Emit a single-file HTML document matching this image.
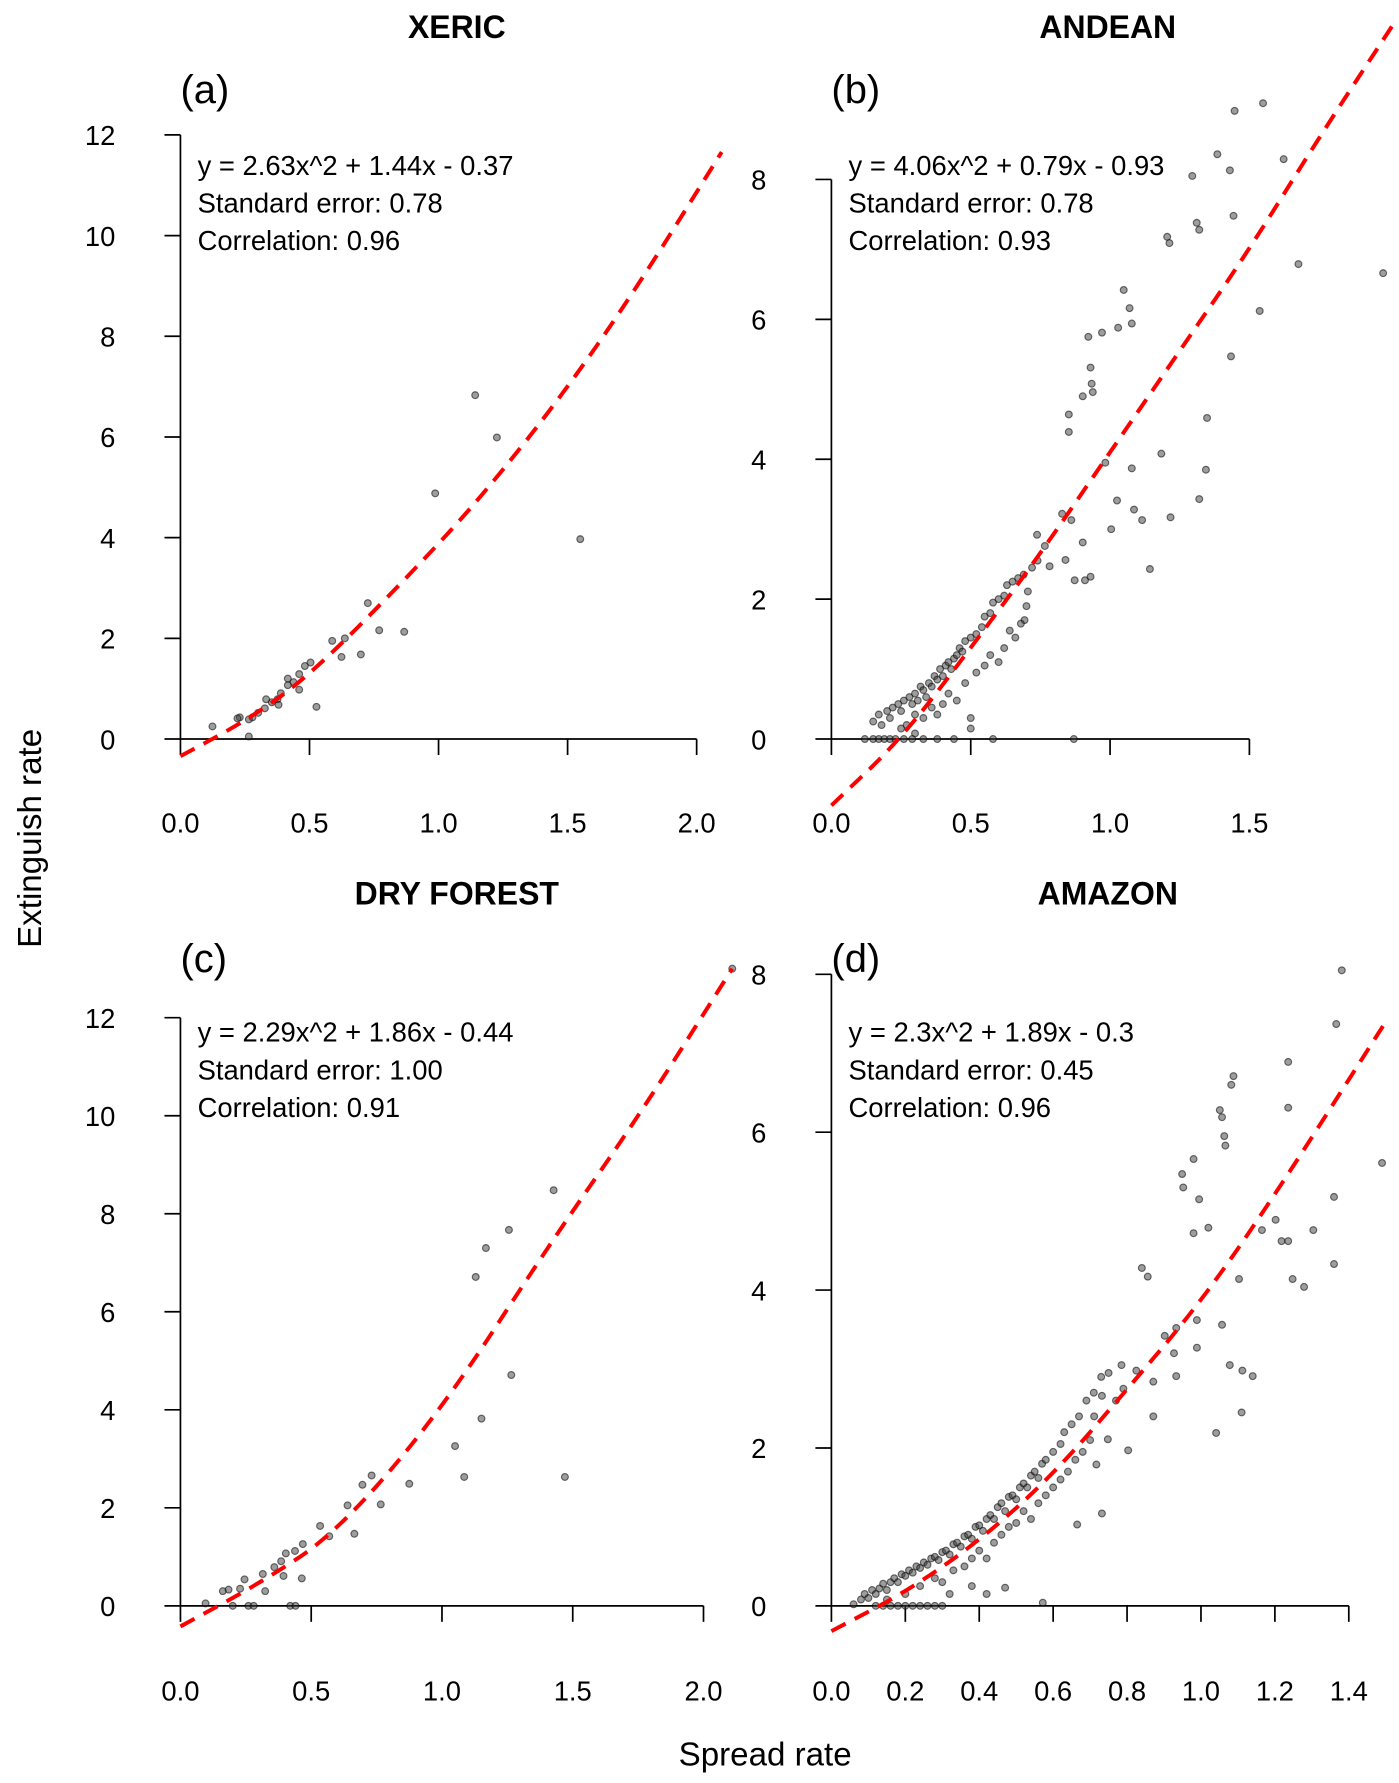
<!DOCTYPE html>
<html><head><meta charset="utf-8"><style>
html,body{margin:0;padding:0;background:#fff}
svg{display:block}
text{font-family:"Liberation Sans",Arial,sans-serif;fill:#000}
</style></head><body>
<svg id="fig" width="1399" height="1783" viewBox="0 0 1225 1561" xmlns="http://www.w3.org/2000/svg">
<text x="36" y="734" font-size="29" text-anchor="middle" transform="rotate(-90 36 734)">Extinguish rate</text>
<text x="670" y="1546" font-size="29" text-anchor="middle">Spread rate</text>
</svg>
<script>
// ---- Panel (a) XERIC ----
const aX=[1.142,1.226,0.987,1.549,0.726,0.77,0.867,0.699,0.624,0.588,0.637,0.504,0.482,0.46,0.438,0.416,0.389,0.376,0.354,0.327,0.301,0.279,0.23,0.221,0.265,0.38,0.46,0.527,0.124,0.265,0.332,0.416];
const aY=[6.83,5.99,4.88,3.97,2.7,2.16,2.13,1.68,1.63,1.95,2.0,1.52,1.45,1.29,1.13,1.07,0.91,0.79,0.73,0.61,0.52,0.43,0.43,0.41,0.39,0.68,0.98,0.64,0.25,0.05,0.79,1.2];
const aFitX=[0,0.25,0.5,0.907,1.173,1.496,1.779,2.097];
const aFitY=[-0.34,0.35,1.25,3.36,4.85,6.94,9.05,11.66];
const aXTicks=[0,0.5,1,1.5,2];
const aXLabels=["0.0","0.5","1.0","1.5","2.0"];
const aYTicks=[0,2,4,6,8,10,12];
const aYLabels=["0","2","4","6","8","10","12"];
// ---- Panel (b) ANDEAN ----
const bX=[1.549,1.447,1.385,1.623,1.295,1.43,1.443,1.311,1.32,1.205,1.213,1.676,1.98,1.537,1.049,1.07,1.078,0.971,1.029,0.922,1.434,0.93,0.934,0.938,0.902,0.852,0.852,0.983,1.348,1.184,1.344,1.32,1.078,1.025,1.004,1.086,1.115,1.217,1.143,0.861,0.828,0.902,0.93,0.873,0.91,0.84,0.766,0.738,0.783,0.705,0.693,
0.15,0.17,0.18,0.2,0.21,0.22,0.24,0.25,0.26,0.28,0.29,0.3,0.31,0.32,0.33,0.34,0.35,0.36,0.37,0.38,0.39,0.4,0.41,0.42,0.43,0.44,0.45,0.46,0.47,0.48,0.5,0.52,0.54,0.55,0.57,0.58,0.6,0.62,0.63,0.65,0.67,0.69,0.72,0.74,
0.25,0.27,0.3,0.33,0.36,0.4,0.42,0.45,0.48,0.5,0.52,0.55,0.57,0.6,0.62,0.64,0.66,0.68,0.7,0.5,0.38,0.3,
0.12,0.15,0.17,0.19,0.21,0.23,0.26,0.29,0.33,0.38,0.44,0.58,0.87];
const bY=[9.09,8.98,8.36,8.29,8.05,8.13,7.48,7.38,7.28,7.18,7.09,6.79,6.66,6.12,6.42,6.16,5.94,5.81,5.88,5.75,5.47,5.31,5.08,4.96,4.9,4.64,4.39,3.95,4.59,4.08,3.85,3.43,3.87,3.41,3.0,3.28,3.13,3.17,2.43,3.13,3.22,2.81,2.32,2.27,2.27,2.56,2.76,2.92,2.47,2.11,1.7,
0.25,0.35,0.2,0.4,0.3,0.45,0.5,0.4,0.55,0.6,0.5,0.65,0.55,0.75,0.7,0.6,0.8,0.75,0.9,0.85,1.0,0.9,1.05,1.1,1.0,1.15,1.2,1.3,1.25,1.4,1.45,1.5,1.6,1.75,1.8,1.95,2.0,2.05,2.2,2.25,2.3,2.35,2.45,2.55,
0.15,0.2,0.35,0.3,0.45,0.5,0.65,0.55,0.8,0.3,0.95,1.05,1.2,1.1,1.3,1.55,1.45,1.65,1.9,0.15,0.35,0.08,
0,0,0,0,0,0,0,0,0,0,0,0,0];
const bFitX=[0,0.25,0.5,0.75,1.0,1.25,1.5,1.75,2.03];
const bFitY=[-0.95,0,1.3,2.65,4.1,5.55,7.0,8.6,10.3];
const bXTicks=[0,0.5,1,1.5];
const bXLabels=["0.0","0.5","1.0","1.5"];
const bYTicks=[0,2,4,6,8];
const bYLabels=["0","2","4","6","8"];
// ---- Panel (c) DRY FOREST ----
const cX=[1.427,1.256,1.168,1.129,1.265,1.151,1.05,1.085,1.47,0.875,0.731,0.696,0.766,0.639,0.665,0.569,0.534,0.468,0.438,0.464,0.403,0.385,0.359,0.315,0.245,0.228,0.184,0.162,0.324,0.394,0.096,0.2,0.26,0.28,0.42,0.44,2.11];
const cY=[8.48,7.67,7.3,6.71,4.71,3.82,3.26,2.63,2.63,2.49,2.66,2.47,2.07,2.05,1.47,1.42,1.63,1.26,1.12,0.56,1.07,0.91,0.79,0.65,0.54,0.35,0.33,0.3,0.3,0.61,0.05,0,0,0,0,0,13.0];
const cFitX=[0,0.3,0.6,1.0,1.41,1.76,2.11];
const cFitY=[-0.42,0.45,1.5,4.0,7.37,10.05,13.0];
const cXTicks=[0,0.5,1,1.5,2];
const cXLabels=["0.0","0.5","1.0","1.5","2.0"];
const cYTicks=[0,2,4,6,8,10,12];
const cYLabels=["0","2","4","6","8","10","12"];
// ---- Panel (d) AMAZON ----
const dX=[1.381,1.366,1.236,1.088,1.082,1.051,1.057,1.063,1.066,1.236,1.49,0.98,0.949,0.952,0.995,1.02,0.98,1.202,1.165,1.218,1.236,1.304,1.36,1.248,1.279,1.36,1.103,0.84,0.856,1.057,0.989,0.933,0.989,0.902,0.927,0.933,1.078,1.112,1.11,1.14,1.041,0.785,0.825,0.871,0.871,0.803,0.748,0.711,0.732,0.717,0.732,0.665,0.572,0.47,
0.06,0.08,0.09,0.1,0.11,0.12,0.13,0.14,0.15,0.16,0.17,0.18,0.19,0.2,0.21,0.22,0.23,0.24,0.25,0.26,0.27,0.28,0.29,0.3,0.31,0.32,0.33,0.34,0.35,0.36,0.37,0.38,0.39,0.4,0.41,0.42,0.43,0.44,0.45,0.46,0.47,0.48,0.49,0.5,0.51,0.52,0.53,0.54,0.55,0.56,0.57,0.58,0.6,0.62,0.63,0.65,0.67,0.69,0.71,0.73,0.75,0.77,0.79,
0.15,0.2,0.24,0.28,0.3,0.33,0.36,0.38,0.4,0.42,0.44,0.46,0.48,0.5,0.52,0.54,0.56,0.58,0.6,0.62,0.64,0.66,0.68,0.7,0.42,0.38,0.32,
0.12,0.14,0.16,0.18,0.2,0.22,0.24,0.26,0.28,0.3];
const dY=[8.05,7.37,6.89,6.71,6.6,6.28,6.19,5.95,5.83,6.31,5.61,5.66,5.47,5.3,5.15,4.79,4.72,4.89,4.76,4.62,4.62,4.76,5.18,4.14,4.04,4.33,4.14,4.28,4.17,3.56,3.62,3.52,3.27,3.42,3.2,2.91,3.05,2.98,2.45,2.91,2.19,3.05,2.98,2.84,2.4,1.97,2.11,2.4,2.66,1.79,1.17,1.03,0.04,0.23,
0.02,0.08,0.15,0.1,0.2,0.15,0.22,0.28,0.2,0.3,0.35,0.3,0.4,0.38,0.45,0.42,0.5,0.48,0.55,0.52,0.6,0.62,0.58,0.68,0.7,0.65,0.78,0.8,0.75,0.88,0.9,0.85,1.0,1.02,0.95,1.1,1.15,1.1,1.25,1.3,1.2,1.38,1.4,1.35,1.5,1.55,1.5,1.65,1.7,1.62,1.8,1.85,1.95,2.05,2.2,2.3,2.4,2.6,2.7,2.9,2.95,2.6,2.75,
0.08,0.15,0.25,0.35,0.3,0.45,0.5,0.6,0.7,0.6,0.8,0.9,1.0,1.05,1.2,1.1,1.3,1.4,1.5,1.6,1.7,1.85,1.95,2.1,0.15,0.25,0.15,
0,0,0,0,0,0,0,0,0,0];
const dFitX=[0,0.2,0.4,0.6,0.8,1.0,1.2,1.496];
const dFitY=[-0.32,0.17,0.82,1.66,2.74,3.85,5.2,7.37];
const dXTicks=[0,0.2,0.4,0.6,0.8,1.0,1.2,1.4];
const dXLabels=["0.0","0.2","0.4","0.6","0.8","1.0","1.2","1.4"];
const dYTicks=[0,2,4,6,8];
const dYLabels=["0","2","4","6","8"];

const NS="http://www.w3.org/2000/svg";
const svg=document.getElementById('fig');
function mk(tag,attrs,parent){const e=document.createElementNS(NS,tag);for(const k in attrs)e.setAttribute(k,attrs[k]);(parent||svg).appendChild(e);return e;}

const panels=[
 {id:'a',title:'XERIC',tag:'(a)',tx:400,x0:158,x1:384,xv1:1,y0:647,y1:118,yv1:12,xlabY:729,X:aX,Y:aY,FX:aFitX,FY:aFitY,XT:aXTicks,XL:aXLabels,YT:aYTicks,YL:aYLabels,eq:['y = 2.63x^2 + 1.44x - 0.37','Standard error: 0.78','Correlation: 0.96'],eqY:153},
 {id:'b',title:'ANDEAN',tag:'(b)',tx:970,x0:728,x1:972,xv1:1,y0:647,y1:157,yv1:8,xlabY:729,X:bX,Y:bY,FX:bFitX,FY:bFitY,XT:bXTicks,XL:bXLabels,YT:bYTicks,YL:bYLabels,eq:['y = 4.06x^2 + 0.79x - 0.93','Standard error: 0.78','Correlation: 0.93'],eqY:153},
 {id:'c',title:'DRY FOREST',tag:'(c)',tx:400,x0:158,x1:387,xv1:1,y0:1406,y1:891,yv1:12,xlabY:1489,X:cX,Y:cY,FX:cFitX,FY:cFitY,XT:cXTicks,XL:cXLabels,YT:cYTicks,YL:cYLabels,eq:['y = 2.29x^2 + 1.86x - 0.44','Standard error: 1.00','Correlation: 0.91'],eqY:912},
 {id:'d',title:'AMAZON',tag:'(d)',tx:970,x0:728,x1:1051.6,xv1:1,y0:1406,y1:853,yv1:8,xlabY:1489,X:dX,Y:dY,FX:dFitX,FY:dFitY,XT:dXTicks,XL:dXLabels,YT:dYTicks,YL:dYLabels,eq:['y = 2.3x^2 + 1.89x - 0.3','Standard error: 0.45','Correlation: 0.96'],eqY:912}
];

panels.forEach(p=>{
 const sx=v=>p.x0+(p.x1-p.x0)*v/p.xv1;
 const sy=v=>p.y0+(p.y1-p.y0)*v/p.yv1;
 const g=mk('g',{});
 
 
 const t=mk('text',{x:p.tx,y:p.id<'c'?33:792,'font-size':28,'font-weight':'bold','text-anchor':'middle'},g);
 
 
 t.textContent=p.title;
 const tg=mk('text',{x:p.x0,y:p.id<'c'?90:851,'font-size':35},g);
 
 
 tg.textContent=p.tag;
 const xa=mk('line',{x1:sx(p.XT[0]),x2:sx(p.XT[p.XT.length-1]),y1:p.y0,y2:p.y0,stroke:'#000','stroke-width':1.5},g);
 
 
 const ya=mk('line',{x1:p.x0,x2:p.x0,y1:sy(p.YT[0]),y2:sy(p.YT[p.YT.length-1]),stroke:'#000','stroke-width':1.5},g);
 
 
 p.XT.forEach((v,i)=>{
  const tk=mk('line',{x1:sx(v),x2:sx(v),y1:p.y0,y2:p.y0+14,stroke:'#000','stroke-width':1.5},g);
  
  
  const tl=mk('text',{x:sx(v),y:p.xlabY,'font-size':24,'text-anchor':'middle'},g);
  
  
  tl.textContent=p.XL[i];
 });
 p.YT.forEach((v,i)=>{
  const tk=mk('line',{x1:p.x0-14,x2:p.x0,y1:sy(v),y2:sy(v),stroke:'#000','stroke-width':1.5},g);
  
  
  const tl=mk('text',{x:p.x0-57,y:sy(v)+9,'font-size':24,'text-anchor':'end'},g);
  
  
  tl.textContent=p.YL[i];
 });
 p.X.forEach((v,i)=>{
  const c=mk('circle',{cx:sx(v),cy:sy(p.Y[i]),r:3,fill:'rgba(60,60,60,0.5)',stroke:'rgba(0,0,0,0.55)','stroke-width':1},g);
  
  
 });
 let d='M'+sx(p.FX[0])+','+sy(p.FY[0]);
 for(let i=1;i<p.FX.length;i++){
  const x0=sx(p.FX[i-1]),y0=sy(p.FY[i-1]),x1=sx(p.FX[i]),y1=sy(p.FY[i]);
  const xm=(x0+x1)/2,ym=(y0+y1)/2;
  if(i===1)d+=' L'+xm+','+ym; else d+=' Q'+x0+','+y0+' '+xm+','+ym;
 }
 d+=' L'+sx(p.FX[p.FX.length-1])+','+sy(p.FY[p.FY.length-1]);
 const fit=mk('path',{d:d,fill:'none',stroke:'#ff0000','stroke-width':3.5,'stroke-dasharray':'14 9'},g);
 
 
 p.eq.forEach((s,i)=>{
  const e=mk('text',{x:p.x0+15,y:p.eqY+i*33,'font-size':24},g);
  
  
  e.textContent=s;
 });
});
</script>
</body></html>
